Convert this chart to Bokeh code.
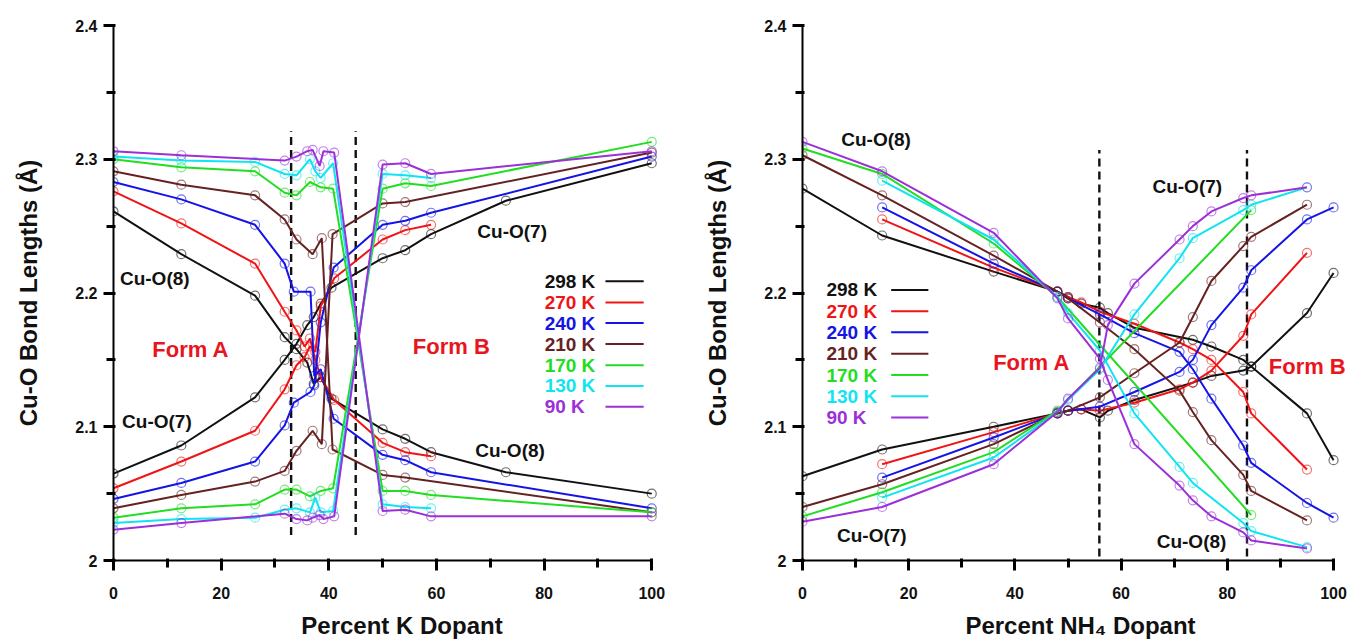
from bokeh.plotting import figure
from bokeh.layouts import row
from bokeh.models import Range1d, FixedTicker, Label
from bokeh.embed import file_html
from bokeh.resources import INLINE

FONT = "Liberation Sans"

temps = ["298 K", "270 K", "240 K", "210 K", "170 K", "130 K", "90 K"]
colors = ["#111111", "#f01414", "#1414e6", "#662222", "#22dd22", "#10e4f0", "#9b30d9"]

x_major = [0, 20, 40, 60, 80, 100]
x_minor = [10, 30, 50, 70, 90]
y_major = [2.0, 2.1, 2.2, 2.3, 2.4]
y_minor = [2.05, 2.15, 2.25, 2.35]

# ---------------- Left panel: Percent K dopant ----------------
k_x = {
    "298 K": [0, 12.6, 26.3, 31.8, 34, 36, 37.2, 38.5, 40.5, 50, 54.2, 59, 72.9, 100],
    "270 K": [0, 12.6, 26.3, 31.8, 34, 35.5, 36.5, 37.5, 38.5, 41, 50, 54.2, 59],
    "240 K": [0, 12.6, 26.3, 31.8, 33.5, 36.6, 37.3, 38.5, 40.9, 50, 54.2, 59, 100],
    "210 K": [0, 12.6, 26.3, 31.8, 34, 37, 38.7, 40.7, 50, 54.2, 100],
    "170 K": [0, 12.6, 26.3, 31.8, 34, 36.5, 38.5, 40.8, 50, 54.2, 59, 100],
    "130 K": [0, 12.6, 26.3, 31.8, 34, 36.5, 37.5, 38.5, 40.8, 50, 54.2, 59],
    "90 K": [0, 12.6, 31.8, 34, 36, 37, 38.3, 39, 41, 50, 54.2, 59, 100],
}
k_o8 = {
    "298 K": [2.261, 2.229, 2.198, 2.167, 2.158, 2.148, 2.132, 2.137, 2.121, 2.098, 2.091, 2.081, 2.066, 2.050],
    "270 K": [2.276, 2.252, 2.222, 2.186, 2.172, 2.160, 2.166, 2.150, 2.137, 2.120, 2.088, 2.081, 2.078],
    "240 K": [2.283, 2.270, 2.251, 2.222, 2.201, 2.201, 2.138, 2.143, 2.106, 2.079, 2.075, 2.066, 2.039],
    "210 K": [2.291, 2.281, 2.273, 2.255, 2.240, 2.229, 2.241, 2.083, 2.064, 2.062, 2.036],
    "170 K": [2.300, 2.294, 2.291, 2.275, 2.273, 2.283, 2.279, 2.278, 2.052, 2.052, 2.049, 2.036],
    "130 K": [2.302, 2.299, 2.298, 2.289, 2.288, 2.300, 2.291, 2.286, 2.297, 2.042, 2.040, 2.039],
    "90 K": [2.306, 2.303, 2.299, 2.302, 2.306, 2.307, 2.295, 2.306, 2.305, 2.037, 2.038, 2.033, 2.033],
}
k_o7 = {
    "298 K": [2.065, 2.086, 2.122, 2.150, 2.162, 2.176, 2.182, 2.192, 2.204, 2.226, 2.232, 2.244, 2.269, 2.297],
    "270 K": [2.054, 2.074, 2.097, 2.128, 2.146, 2.152, 2.160, 2.156, 2.190, 2.211, 2.240, 2.247, 2.251],
    "240 K": [2.046, 2.058, 2.074, 2.101, 2.118, 2.126, 2.131, 2.178, 2.219, 2.251, 2.254, 2.260, 2.302],
    "210 K": [2.039, 2.049, 2.059, 2.067, 2.082, 2.097, 2.087, 2.244, 2.267, 2.268, 2.305],
    "170 K": [2.032, 2.039, 2.042, 2.053, 2.053, 2.048, 2.052, 2.054, 2.278, 2.282, 2.280, 2.313],
    "130 K": [2.028, 2.031, 2.032, 2.038, 2.039, 2.036, 2.047, 2.036, 2.037, 2.289, 2.288, 2.286],
    "90 K": [2.023, 2.028, 2.035, 2.031, 2.030, 2.032, 2.034, 2.031, 2.033, 2.296, 2.297, 2.289, 2.306],
}

# ---------------- Right panel: Percent NH4 dopant ----------------
nh4_x = {
    "298 K": [0, 15, 36, 48, 50, 52.5, 56, 57.5, 62.5, 73.5, 77, 83, 84.5, 95, 100],
    "270 K": [15, 36, 48, 50, 52.5, 56, 62.5, 71, 73.5, 77, 83, 84.5, 95],
    "240 K": [15, 36, 48, 50, 56, 62.5, 71, 73.5, 77, 83, 84.5, 95, 100],
    "210 K": [0, 15, 36, 48, 50, 56, 62.5, 71, 73.5, 77, 83, 84.5, 95],
    "170 K": [0, 15, 36, 48, 84.5],
    "130 K": [15, 36, 48, 50, 56, 62.5, 71, 73.5, 83, 84.5, 95],
    "90 K": [0, 15, 36, 48, 50, 56, 57.5, 62.5, 71, 73.5, 77, 83, 84.5, 95],
}
nh4_o8 = {
    "298 K": [2.278, 2.243, 2.216, 2.201, 2.197, 2.192, 2.189, 2.185, 2.174, 2.165, 2.160, 2.150, 2.145, 2.110, 2.075],
    "270 K": [2.255, 2.219, 2.201, 2.197, 2.193, 2.186, 2.177, 2.163, 2.158, 2.150, 2.126, 2.110, 2.068],
    "240 K": [2.264, 2.222, 2.201, 2.196, 2.184, 2.170, 2.156, 2.143, 2.121, 2.086, 2.073, 2.043, 2.032],
    "210 K": [2.303, 2.273, 2.228, 2.201, 2.196, 2.178, 2.158, 2.127, 2.111, 2.090, 2.064, 2.052, 2.030],
    "170 K": [2.308, 2.289, 2.237, 2.197, 2.034],
    "130 K": [2.284, 2.240, 2.197, 2.185, 2.157, 2.110, 2.070, 2.058, 2.028, 2.022, 2.010],
    "90 K": [2.313, 2.291, 2.245, 2.196, 2.181, 2.151, 2.135, 2.087, 2.056, 2.045, 2.033, 2.021, 2.015, 2.009],
}
nh4_o7 = {
    "298 K": [2.063, 2.083, 2.100, 2.110, 2.112, 2.113, 2.107, 2.112, 2.120, 2.133, 2.138, 2.142, 2.145, 2.185, 2.215],
    "270 K": [2.072, 2.096, 2.110, 2.112, 2.113, 2.112, 2.118, 2.128, 2.133, 2.142, 2.168, 2.184, 2.230],
    "240 K": [2.062, 2.092, 2.110, 2.112, 2.115, 2.126, 2.141, 2.150, 2.176, 2.204, 2.217, 2.255, 2.264],
    "210 K": [2.040, 2.057, 2.087, 2.110, 2.112, 2.122, 2.140, 2.163, 2.182, 2.209, 2.235, 2.242, 2.266],
    "170 K": [2.033, 2.051, 2.081, 2.112, 2.262],
    "130 K": [2.047, 2.077, 2.111, 2.120, 2.143, 2.184, 2.226, 2.241, 2.262, 2.266, 2.279],
    "90 K": [2.029, 2.040, 2.072, 2.111, 2.121, 2.144, 2.176, 2.207, 2.240, 2.250, 2.261, 2.271, 2.273, 2.279],
}

# dashed phase boundaries
k_dash_x = [33, 45]
k_dash_y = [2.019, 2.321]
nh4_dash_x = [55.9, 83.7]
nh4_dash_y = [2.003, 2.307]

# annotation texts
k_notes = [("Cu-O(8)", 1.2, 2.211, "#111111", 19), ("Cu-O(7)", 1.6, 2.104, "#111111", 19),
           ("Cu-O(7)", 67.6, 2.246, "#111111", 19), ("Cu-O(8)", 67.2, 2.082, "#111111", 19),
           ("Form A", 7.2, 2.158, "#e8141e", 22), ("Form B", 55.6, 2.160, "#e8141e", 22)]
nh4_notes = [("Cu-O(8)", 7.3, 2.3145, "#111111", 19), ("Cu-O(7)", 65.9, 2.280, "#111111", 19),
             ("Cu-O(7)", 6.5, 2.019, "#111111", 19), ("Cu-O(8)", 66.7, 2.014, "#111111", 19),
             ("Form A", 35.9, 2.148, "#e8141e", 22), ("Form B", 87.8, 2.145, "#e8141e", 22)]

k_leg = dict(tx=80.1, x0=91.4, x1=98.5, y=[2.2087, 2.1929, 2.1775, 2.1618, 2.146, 2.1305, 2.115])
nh4_leg = dict(tx=4.5, x0=16.7, x1=23.7, y=[2.2023, 2.1863, 2.1706, 2.1546, 2.1386, 2.1228, 2.107])


def make_panel(xs, o8, o7, dash_x, dash_y, notes, leg, xlabel, width, x_end, border_left):
    p = figure(width=width, height=641, output_backend="svg", toolbar_location=None,
               x_range=Range1d(0, x_end), y_range=Range1d(2.0, 2.4),
               min_border_left=border_left, min_border_right=0, min_border_top=25,
               min_border_bottom=79)
    p.outline_line_color = None
    p.xgrid.visible = False
    p.ygrid.visible = False
    p.xaxis.ticker = FixedTicker(ticks=x_major, minor_ticks=x_minor)
    p.yaxis.ticker = FixedTicker(ticks=y_major, minor_ticks=y_minor)
    p.xaxis.bounds = (0, 100)
    p.xaxis.axis_label = xlabel
    p.yaxis.axis_label = "Cu-O Bond Lengths (Å)"
    for ax in (p.xaxis[0], p.yaxis[0]):
        ax.axis_line_width = 2
        ax.axis_line_color = "black"
        ax.major_tick_line_width = 3
        ax.minor_tick_line_width = 3
        ax.major_tick_line_color = "black"
        ax.minor_tick_line_color = "black"
        ax.major_tick_in = 2
        ax.minor_tick_in = 2
        ax.major_tick_out = 10
        ax.minor_tick_out = 7
        ax.major_label_text_font = FONT
        ax.major_label_text_font_style = "bold"
        ax.major_label_text_font_size = "16px"
        ax.major_label_text_color = "#111111"
        ax.axis_label_text_font = FONT
        ax.axis_label_text_font_style = "bold"
        ax.axis_label_text_font_size = "24px"
        ax.axis_label_text_color = "#111111"
    p.xaxis.major_label_standoff = 16
    p.xaxis.axis_label_standoff = 10
    p.yaxis.major_label_standoff = 6
    p.yaxis.axis_label_standoff = 30

    for xv in dash_x:
        p.segment(x0=[xv], y0=[dash_y[0]], x1=[xv], y1=[dash_y[1]], line_color="#111111",
                  line_width=2.4, line_dash="8 5")

    for t, c in zip(temps, colors):
        for ys in (o8[t], o7[t]):
            p.line(xs[t], ys, line_color=c, line_width=2)
            p.scatter(xs[t], ys, marker="circle", size=9, fill_color=None,
                      line_color=c, line_alpha=0.6, line_width=1.2)

    for txt, x, y, c, fs in notes:
        p.add_layout(Label(x=x, y=y, text=txt, text_font=FONT, text_font_style="bold",
                           text_font_size=f"{fs}px", text_color=c, text_baseline="middle",
                           text_align="left"))

    for t, c, y in zip(temps, colors, leg["y"]):
        p.add_layout(Label(x=leg["tx"], y=y, text=t, text_font=FONT, text_font_style="bold",
                           text_font_size="19px", text_color=c, text_baseline="middle",
                           text_align="left"))
        p.segment(x0=[leg["x0"]], y0=[y], x1=[leg["x1"]], y1=[y], line_color=c, line_width=2)
    return p


# left frame: x=0 at 113 px, 5.38 px per unit; right frame: x=0 at 802 px, 5.31 px per unit
p1 = make_panel(k_x, k_o8, k_o7, k_dash_x, k_dash_y, k_notes, k_leg,
                "Percent K Dopant", 690, 107.2, 113)
p2 = make_panel(nh4_x, nh4_o8, nh4_o7, nh4_dash_x, nh4_dash_y, nh4_notes, nh4_leg,
                "Percent NH\u2084 Dopant", 668, 104.7, 112)

layout = row(p1, p2, spacing=0)
open("out.html", "w").write(file_html(layout, INLINE))
